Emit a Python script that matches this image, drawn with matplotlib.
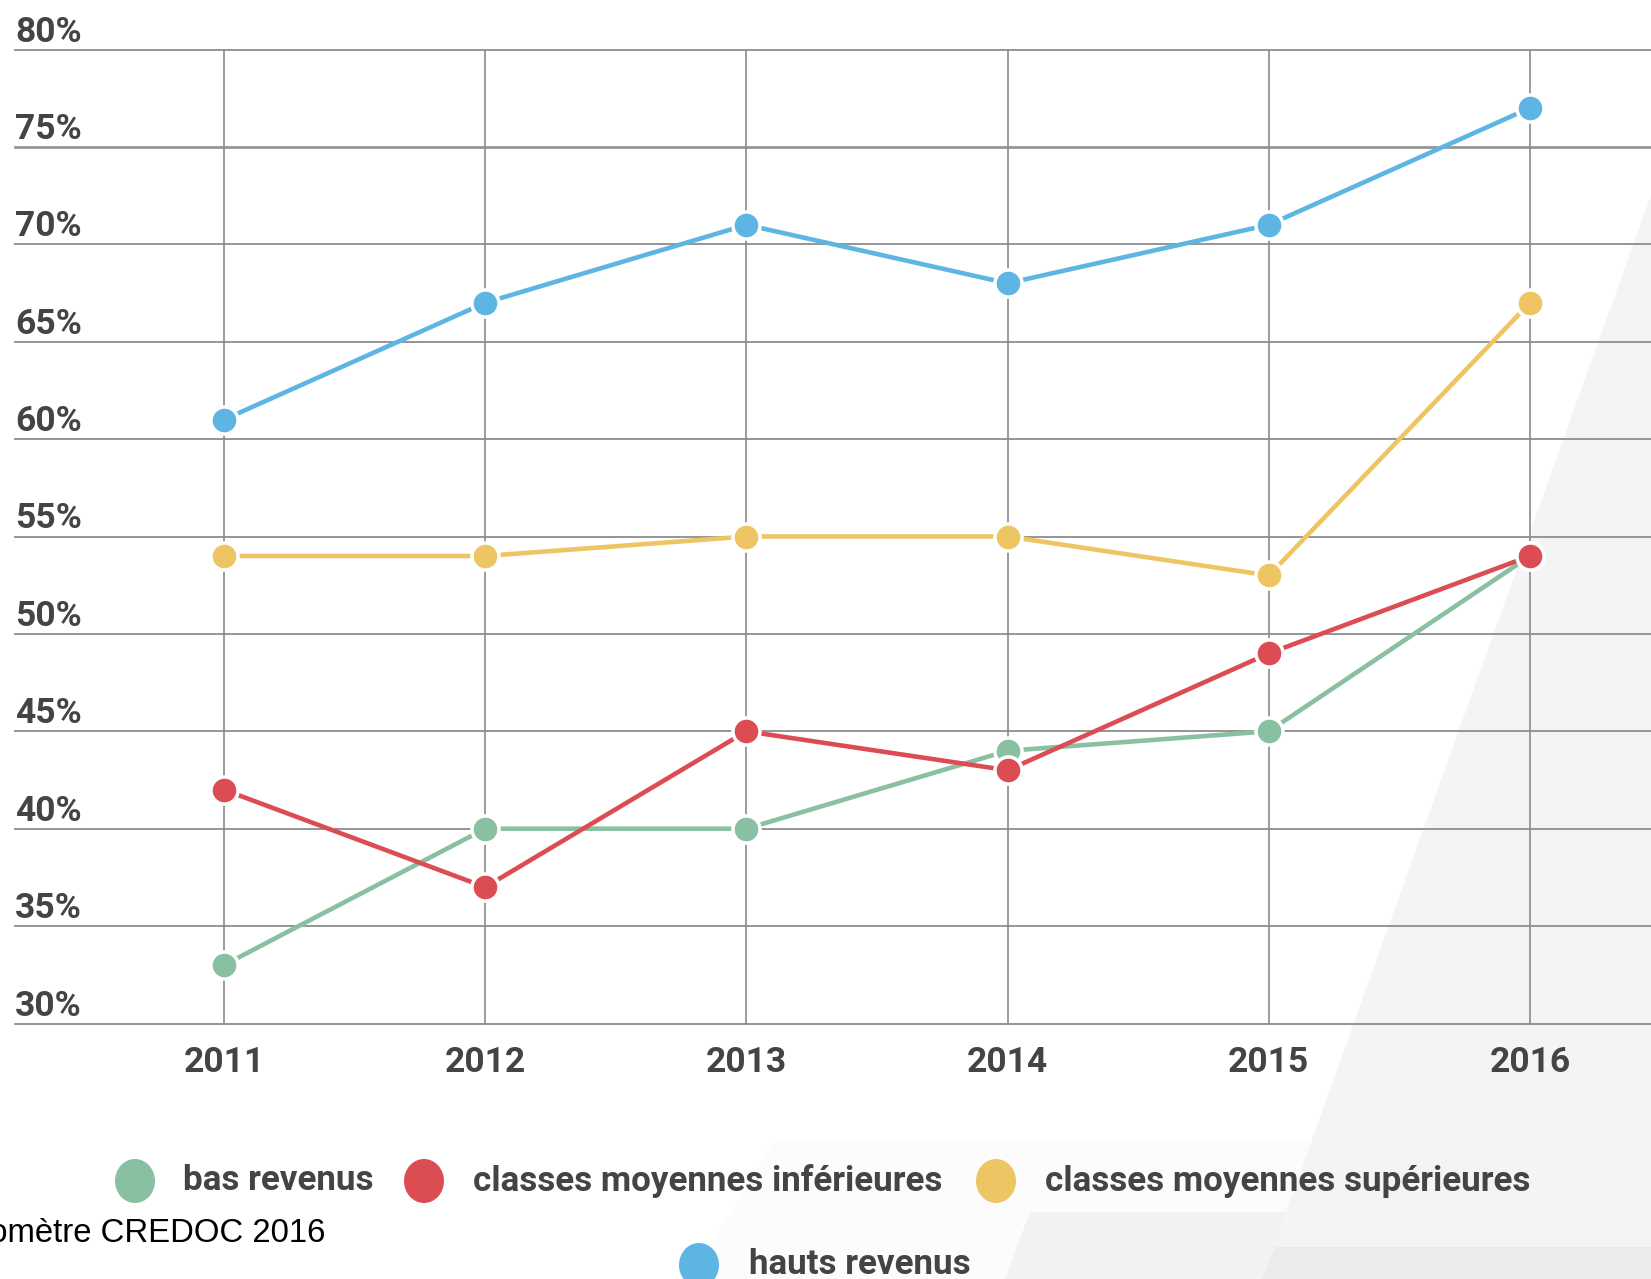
import matplotlib
matplotlib.use("Agg")
import matplotlib.pyplot as plt
from matplotlib import transforms
from matplotlib.patches import Polygon, Ellipse

years = [2011, 2012, 2013, 2014, 2015, 2016]
bas_revenus = [33, 40, 40, 44, 45, 54]
moy_inf = [42, 37, 45, 43, 49, 54]
moy_sup = [54, 54, 55, 55, 53, 67]
hauts_revenus = [61, 67, 71, 68, 71, 77]

series_names = ["bas revenus", "classes moyennes inférieures",
                "classes moyennes supérieures", "hauts revenus"]
series_colors = ["#88c0a1", "#dc4d53", "#edc663", "#5eb5e4"]
y_ticks = [30, 35, 40, 45, 50, 55, 60, 65, 70, 75, 80]
y_labels = ["%d%%" % v for v in y_ticks]

W, H = 1651, 1279
fig = plt.figure(figsize=(W / 100, H / 100), dpi=100)

# fond : bandes grises inclinées, en coordonnées pixels
bg = fig.add_axes([0, 0, 1, 1], zorder=0)
bg.set_xlim(0, W)
bg.set_ylim(H, 0)
bg.axis("off")
bg.add_patch(Polygon([(690, H), (775, 1140), (W, 1140), (W, H)],
                     closed=True, facecolor="#fcfcfc", edgecolor="none"))
bg.add_patch(Polygon([(1005, H), (1030, 1212), (W, 1212), (W, H)],
                     closed=True, facecolor="#f2f2f3", edgecolor="none"))
bg.add_patch(Polygon([(W, 195), (W, H), (1262, H)],
                     closed=True, facecolor="#f4f4f4", edgecolor="none"))
bg.add_patch(Polygon([(1262, H), (1275, 1247), (W, 1247), (W, H)],
                     closed=True, facecolor="#ebebed", edgecolor="none"))

# axes du graphique
ax = fig.add_axes([15 / W, 1 - 1023.5 / H, 1 - 15 / W, (1023.5 - 49.5) / H], zorder=1)
ax.patch.set_alpha(0)
ax.set_xlim(2010.2, 2016.463)
ax.set_ylim(30, 80)
for s in ax.spines.values():
    s.set_visible(False)

for v in y_ticks:
    lw = 2.0 if v == 75 else 1.4
    ax.axhline(v, color="#959595", lw=lw, zorder=1, clip_on=False)
for yr in years:
    ax.axvline(yr, color="#8a8a8a", lw=1.2, zorder=1)

ax.set_xticks(years)
ax.set_xticklabels([str(y) for y in years])
ax.set_yticks([])
ax.tick_params(axis="x", length=0, pad=16, labelsize=25.5, labelcolor="#444444")
for lab in ax.get_xticklabels():
    lab.set_fontfamily("Roboto")
    lab.set_fontweight("bold")

lab_tr = transforms.offset_copy(
    transforms.blended_transform_factory(ax.transAxes, ax.transData),
    fig=fig, x=0, y=8, units="dots")
for v, t in zip(y_ticks, y_labels):
    ax.text(0, v, t, transform=lab_tr, ha="left", va="baseline",
            fontsize=25.5, color="#444444", family="Roboto", fontweight="bold")

all_series = [bas_revenus, moy_inf, moy_sup, hauts_revenus]
for i, (vals, col) in enumerate(zip(all_series, series_colors)):
    ax.plot(years, vals, color=col, lw=3.3, marker="o", markersize=19.5,
            markerfacecolor=col, markeredgecolor="white", markeredgewidth=2.5,
            zorder=3 + i)

# légende
leg_items = [(135, 1181, 183), (424, 1181, 473), (996, 1181, 1045), (699, 1265, 749)]
for (cx, cy, tx), name, col in zip(leg_items, series_names, series_colors):
    bg.add_patch(Ellipse((cx, cy), 40, 44, facecolor=col, edgecolor="none", zorder=3))
    bg.text(tx, cy, name, ha="left", va="center", fontsize=25.2, color="#444444",
            family="Roboto", fontweight="bold", zorder=3)

bg.text(325, 1234, "Baromètre CREDOC 2016", ha="right", va="center",
        fontsize=23.7, color="black", family="Liberation Sans", zorder=3)

fig.savefig("out.png", dpi=100)
